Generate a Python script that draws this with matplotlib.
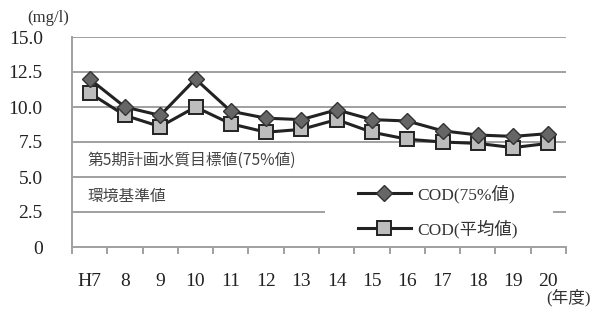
import matplotlib
matplotlib.use("Agg")
import matplotlib.pyplot as plt
from matplotlib.patches import Rectangle
import numpy as np

plt.rcParams['font.family'] = ['Liberation Serif', 'Noto Sans CJK JP', 'DejaVu Sans']

years = ["H7", "8", "9", "10", "11", "12", "13", "14", "15", "16", "17", "18", "19", "20"]
cod75 = [12.0, 10.0, 9.4, 12.0, 9.7, 9.2, 9.1, 9.8, 9.1, 9.0, 8.3, 8.0, 7.9, 8.1]
codavg = [11.0, 9.4, 8.6, 10.0, 8.8, 8.2, 8.4, 9.1, 8.2, 7.7, 7.5, 7.4, 7.1, 7.4]
yticks = [0, 2.5, 5.0, 7.5, 10.0, 12.5, 15.0]
ytick_labels = ["0", "2.5", "5.0", "7.5", "10.0", "12.5", "15.0"]

W, H = 592, 311
fig = plt.figure(figsize=(W/100, H/100), dpi=100)
ax = fig.add_axes([72/W, (H-247)/H, (566-72)/W, (247-37)/H])

x = np.arange(len(years))
ax.set_xlim(-0.5, len(years)-0.5)
ax.set_ylim(0, 15)

for v in yticks[1:]:
    ax.axhline(v, color='#a0a0a0', lw=1.4, zorder=1)

ax.plot(x, codavg, color='#222222', lw=2.2, marker='s', ms=10.5,
        mfc='#bdbdbd', mec='#222222', mew=1.4, label='COD(平均値)', zorder=3)
ax.plot(x, cod75, color='#222222', lw=2.2, marker='D', ms=8.5,
        mfc='#666666', mec='#333333', mew=1.0, label='COD(75%値)', zorder=4)

for s in ['top', 'right']:
    ax.spines[s].set_visible(False)
ax.spines['left'].set_color('#a0a0a0')
ax.spines['bottom'].set_color('#a0a0a0')
ax.spines['left'].set_linewidth(1.4)
ax.spines['bottom'].set_linewidth(1.4)

ax.set_yticks(yticks)
ax.set_yticklabels(ytick_labels, fontsize=14, color='#222222')
ax.tick_params(axis='y', length=0, pad=21)

ax.set_xticks(np.arange(-0.5, len(years), 1.0))
ax.set_xticklabels([])
ax.set_xticks(x, minor=True)
ax.set_xticklabels(years, minor=True, fontsize=14, color='#222222')
ax.tick_params(axis='x', which='major', length=5, width=1.4, color='#a0a0a0', direction='out')
ax.tick_params(axis='x', which='minor', length=0, pad=19)

ax.text(15/494, (247-160.7)/210, '第5期計画水質目標値(75%値)', transform=ax.transAxes,
        fontsize=11.3, color='#444444', va='center', ha='left', family=['Noto Sans CJK JP'])
ax.text(15/494, (247-196.7)/210, '環境基準値', transform=ax.transAxes,
        fontsize=11.3, color='#444444', va='center', ha='left', family=['Noto Sans CJK JP'])

# white legend background box
ax.add_patch(Rectangle(((325-72)/494, (247-243)/210), (553-325)/494, (243-181)/210,
                       transform=ax.transAxes, facecolor='white', edgecolor='none', zorder=2))

handles, labels = ax.get_legend_handles_labels()
leg = ax.legend(handles[::-1], labels[::-1], loc='center',
                bbox_to_anchor=((438-72)/494, (247-211.5)/210), frameon=False,
                fontsize=12.5, handlelength=3.05, handletextpad=0.4,
                labelspacing=0.95, borderpad=0.2, borderaxespad=0, markerscale=1.0)
for t in leg.get_texts():
    t.set_color('#333333')

fig.text(48/W, 1-18/H, '(mg/l)', fontsize=12, ha='center', va='center', color='#333333')
fig.text(591/W, 1-298/H, '(年度)', fontsize=12, ha='right', va='center', color='#333333')

fig.savefig('out.png', dpi=100)
